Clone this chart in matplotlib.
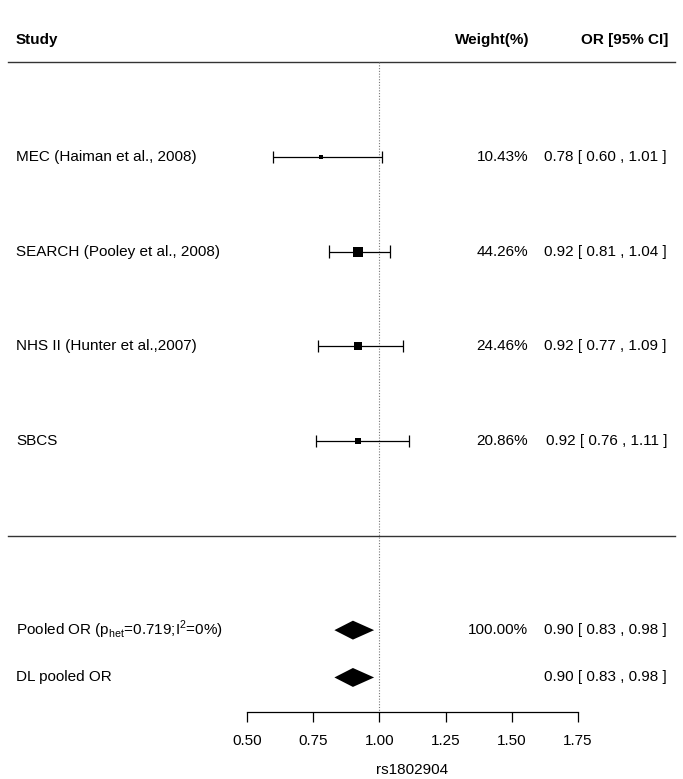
import numpy as np
import matplotlib

matplotlib.use('Agg')

import matplotlib.pyplot as plt
from matplotlib.transforms import blended_transform_factory

plt.rcParams['font.family'] = ['Liberation Sans', 'DejaVu Sans']
plt.rcParams['mathtext.fontset'] = 'custom'
plt.rcParams['mathtext.rm'] = 'Liberation Sans'

# ---- data ----
studies = ['MEC (Haiman et al., 2008)', 'SEARCH (Pooley et al., 2008)',
           'NHS II (Hunter et al.,2007)', 'SBCS']
odds = [0.78, 0.92, 0.92, 0.92]
lower = [0.60, 0.81, 0.77, 0.76]
upper = [1.01, 1.04, 1.09, 1.11]
weights = [10.43, 44.26, 24.46, 20.86]

pooled_labels = ['Pooled OR (p$_{\\mathregular{het}}$=0.719;'
                 'I$^{\\mathregular{2}}$=0%)', 'DL pooled OR']
pooled_or = [0.90, 0.90]
pooled_lo = [0.83, 0.83]
pooled_hi = [0.98, 0.98]
pooled_weight = ['100.00%', '']

xticks = [0.50, 0.75, 1.00, 1.25, 1.50, 1.75]
xlabel = 'rs1802904'

# ---- layout (rows in line units, top to bottom) ----
study_rows = np.arange(len(studies)) * 2.0
pooled_rows = np.array([10.0, 11.0])
header_row = -2.47
sep_rows = [-2.0, 8.0]
W, H = 683, 779

fig = plt.figure(figsize=(W / 100, H / 100), dpi=100)
ax = fig.add_axes([247 / W, (H - 712) / H, 331 / W, 712 / H])
ax.set_xlim(0.5, 1.75)
ax.set_ylim(11.73, -3.317)
for s in ['top', 'left', 'right']:
    ax.spines[s].set_visible(False)
ax.spines['bottom'].set_linewidth(0.9)
ax.set_yticks([])
ax.set_xticks(xticks)
ax.set_xticklabels([f'{t:.2f}' for t in xticks])
ax.tick_params(axis='x', direction='out', length=7.5, width=0.9,
               labelsize=11, pad=8)
ax.set_xlabel(xlabel, fontsize=11, labelpad=11)

fx = blended_transform_factory(fig.transFigure, ax.transData)
fs = 11

# header
ax.text(16 / W, header_row, 'Study', transform=fx, fontsize=fs,
        fontweight='bold', va='center', ha='left')
ax.text(529 / W, header_row, 'Weight(%)', transform=fx, fontsize=fs,
        fontweight='bold', va='center', ha='right')
ax.text(668 / W, header_row, 'OR [95% CI]', transform=fx, fontsize=fs,
        fontweight='bold', va='center', ha='right')

# separators
for r in sep_rows:
    ax.plot([8 / W, 675 / W], [r, r], transform=fx, color='#333333',
            lw=1.0, clip_on=False)

# reference line
ax.vlines(1.0, sep_rows[0], ax.get_ylim()[0], colors='#777777',
          linestyles=(0, (1, 1.5)), lw=0.8, clip_on=False)

# studies
cap = 0.13
for i, y in enumerate(study_rows):
    ax.hlines(y, lower[i], upper[i], colors='black', lw=0.9)
    ax.vlines([lower[i], upper[i]], y - cap, y + cap, colors='black', lw=0.9)
    ax.plot(odds[i], y, marker='s', color='black',
            ms=1.1 * np.sqrt(weights[i]), mew=0)
    ax.text(16 / W, y, studies[i], transform=fx, fontsize=fs, va='center')
    ax.text(528 / W, y, f'{weights[i]:.2f}%', transform=fx, fontsize=fs,
            va='center', ha='right')
    ax.text(667 / W, y,
            f'{odds[i]:.2f} [ {lower[i]:.2f} , {upper[i]:.2f} ]',
            transform=fx, fontsize=fs, va='center', ha='right')

# pooled estimates
dh = 0.2
for i, y in enumerate(pooled_rows):
    ax.fill([pooled_lo[i], pooled_or[i], pooled_hi[i], pooled_or[i]],
            [y, y - dh, y, y + dh], color='black', lw=0)
    ax.text(16 / W, y, pooled_labels[i], transform=fx, fontsize=fs,
            va='center')
    if pooled_weight[i]:
        ax.text(528 / W, y, pooled_weight[i], transform=fx, fontsize=fs,
                va='center', ha='right')
    ax.text(667 / W, y,
            f'{pooled_or[i]:.2f} [ {pooled_lo[i]:.2f} , {pooled_hi[i]:.2f} ]',
            transform=fx, fontsize=fs, va='center', ha='right')

fig.savefig('out.png', dpi=100)
